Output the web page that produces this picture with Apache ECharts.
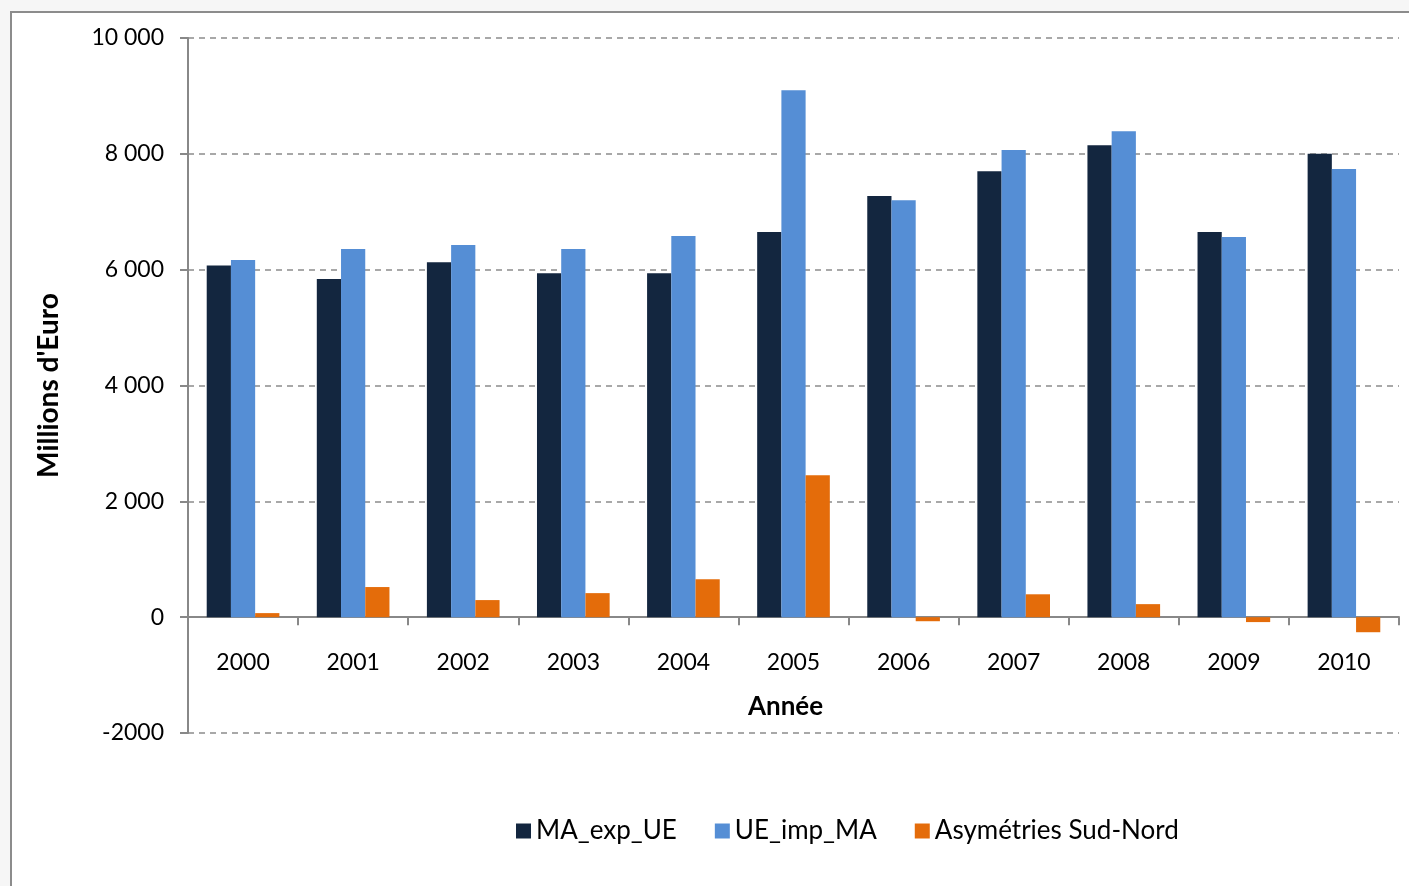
<!DOCTYPE html>
<html>
<head>
<meta charset="utf-8">
<script src="https://cdn.jsdelivr.net/npm/echarts@6/dist/echarts.min.js"></script>
<style>
  html, body { margin: 0; padding: 0; }
  .wrap {
    position: relative;
    width: 1409px;
    height: 886px;
    overflow: hidden;
    background: #f6f6f6;
  }
  .frame {
    position: absolute;
    left: 10px;
    top: 11px;
    width: 1420px;
    height: 900px;
    background: #fff;
    border: 2px solid #8c8c8c;
  }
  #chart {
    position: absolute;
    left: 0;
    top: 0;
    width: 1409px;
    height: 886px;
  }
</style>
</head>
<body>
<div class="wrap">
  <div class="frame"></div>
  <div id="chart"></div>
</div>
<script>
// années
const years = ['2000', '2001', '2002', '2003', '2004', '2005', '2006', '2007', '2008', '2009', '2010']
// exportations Maroc -> UE
const maExpUe = [6070, 5840, 6130, 5940, 5940, 6650, 7270, 7700, 8150, 6650, 8000]
// importations UE depuis le Maroc
const ueImpMa = [6165, 6355, 6425, 6355, 6580, 9100, 7200, 8065, 8390, 6565, 7740]
// asymétries
const asym = [70, 520, 295, 415, 655, 2450, -70, 395, 225, -85, -260]

const font = 'Lato, "Open Sans", sans-serif'

const chart = echarts.init(document.getElementById('chart'))

const option = {
    backgroundColor: 'transparent',
    textStyle: { fontFamily: font },
    animation: false,
    grid: {
        left: 188,
        right: 10,
        top: 38,
        bottom: 153
    },
    legend: {
        bottom: 37,
        left: 511,
        itemWidth: 15,
        itemHeight: 15,
        itemGap: 38,
        icon: 'rect',
        textStyle: { fontSize: 26, color: '#000', fontFamily: font },
        data: ['MA_exp_UE', 'UE_imp_MA', 'Asymétries Sud-Nord']
    },
    xAxis: {
        type: 'category',
        data: years,
        name: 'Année',
        nameLocation: 'middle',
        nameGap: -39,
        nameTextStyle: { fontSize: 26, fontWeight: 'bold', color: '#000', padding: [0, 16, 0, 0] },
        axisLine: { onZero: true, lineStyle: { color: '#888', width: 2 } },
        axisTick: { show: true, length: 8, lineStyle: { color: '#888', width: 2 } },
        axisLabel: { fontSize: 23, color: '#000', margin: -82 }
    },
    yAxis: {
        type: 'value',
        min: -2000,
        max: 10000,
        interval: 2000,
        name: "Millions d'Euro",
        nameLocation: 'middle',
        nameGap: 125,
        nameRotate: 90,
        nameTextStyle: { fontSize: 28, fontWeight: 'bold', color: '#000' },
        axisLine: { show: true, lineStyle: { color: '#888', width: 2 } },
        axisTick: { show: true, length: 8, lineStyle: { color: '#888', width: 2 } },
        axisLabel: {
            fontSize: 23,
            color: '#000',
            margin: 24,
            formatter: function (v) {
                if (v >= 1000) {
                    return String(v).replace(/\B(?=(\d{3})+(?!\d))/g, ' ')
                }
                return String(v)
            }
        },
        splitLine: { lineStyle: { color: '#8c8c8c', type: [6, 5], width: 1.5 } }
    },
    series: [{
        name: 'MA_exp_UE',
        type: 'bar',
        data: maExpUe,
        barGap: '0%',
        barCategoryGap: '34%',
        itemStyle: { color: '#13263f' }
    }, {
        name: 'UE_imp_MA',
        type: 'bar',
        data: ueImpMa,
        barGap: '0%',
        barCategoryGap: '34%',
        itemStyle: { color: '#558ed5' }
    }, {
        name: 'Asymétries Sud-Nord',
        type: 'bar',
        data: asym,
        barGap: '0%',
        barCategoryGap: '34%',
        itemStyle: { color: '#e46c0a' }
    }]
}

chart.setOption(option)

window.addEventListener('resize', function () {
    chart.resize()
})
</script>
</body>
</html>
